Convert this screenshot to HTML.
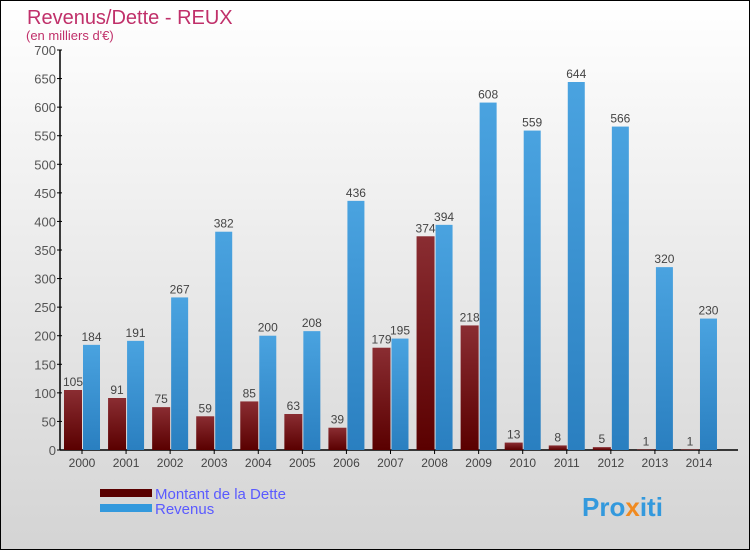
<!DOCTYPE html>
<html><head><meta charset="utf-8"><style>
body{margin:0}
#c{position:relative;width:750px;height:550px;}
svg{display:block;font-family:"Liberation Sans",sans-serif}
</style></head><body>
<div id="c">
<svg id="s" width="750" height="550" xmlns="http://www.w3.org/2000/svg">
<defs>
<linearGradient id="bg" x1="0" y1="0" x2="0" y2="1"><stop offset="0" stop-color="#ffffff"/><stop offset="1" stop-color="#d4d4d4"/></linearGradient>
<linearGradient id="gd" x1="0" y1="0" x2="0" y2="1"><stop offset="0" stop-color="#8a2d32"/><stop offset="1" stop-color="#5a0000"/></linearGradient>
<linearGradient id="gr" x1="0" y1="0" x2="0" y2="1"><stop offset="0" stop-color="#4aa3e0"/><stop offset="1" stop-color="#2a7fc0"/></linearGradient>
</defs>
<rect x="0.5" y="0.5" width="749" height="549" fill="url(#bg)" stroke="#000"/>
<text x="27" y="24" font-size="20" fill="#c0306a">Revenus/Dette - REUX</text>
<text x="26" y="40" font-size="13" fill="#c0306a">(en milliers d'€)</text>
<g id="plot"></g>
<g>
<rect x="100" y="489" width="52" height="8" fill="#5a0000"/>
<text x="155" y="499" font-size="15" fill="#5a5aff">Montant de la Dette</text>
<rect x="100" y="504" width="52" height="8" fill="#3399dd"/>
<text x="155" y="514" font-size="15" fill="#5a5aff">Revenus</text>
</g>
<text x="582" y="516" font-size="26" font-weight="bold" fill="#3399dd">Pro<tspan fill="#f08a20">x</tspan>iti</text>
</svg></div>
<script>
const years=["2000","2001","2002","2003","2004","2005","2006","2007","2008","2009","2010","2011","2012","2013","2014"];
const dette=[105,91,75,59,85,63,39,179,374,218,13,8,5,1,1];
const revenus=[184,191,267,382,200,208,436,195,394,608,559,644,566,320,230];
const ticks=[0,50,100,150,200,250,300,350,400,450,500,550,600,650,700];
const NS="http://www.w3.org/2000/svg";
const g=document.getElementById("plot");
const y0=450,y1=50,vmax=700,x0=82,step=44.07;
const Y=v=>y0-(v/vmax)*(y0-y1);
const X=i=>x0+i*step;
function mk(t,a){const e=document.createElementNS(NS,t);for(const k in a)e.setAttribute(k,a[k]);g.appendChild(e);return e;}
let e;
e=mk("line",{x1:60,y1:y0,x2:738,y2:y0,stroke:"#000","stroke-width":1.5});


e=mk("line",{x1:60,y1:y1,x2:60,y2:y0,stroke:"#000","stroke-width":1.5});


ticks.forEach(t=>{
 const l=mk("line",{x1:57,y1:Y(t),x2:62,y2:Y(t),stroke:"#000"});
 
 
 const tx=mk("text",{x:56,y:Y(t)+5,"font-size":13,fill:"#555","text-anchor":"end"});
 tx.textContent=t;
 
 
});
years.forEach((yr,i)=>{
 const cx=X(i);
 const tl=mk("text",{x:cx,y:467,"font-size":12,fill:"#444","text-anchor":"middle"});
 tl.textContent=yr;
 
 
 const tk=mk("line",{x1:cx,y1:y0,x2:cx,y2:y0+4,stroke:"#000"});
 
 
 const bd=mk("rect",{x:cx-18,y:Y(dette[i]),width:18,height:y0-Y(dette[i]),fill:"url(#gd)"});
 
 
 const br=mk("rect",{x:cx+1,y:Y(revenus[i]),width:17,height:y0-Y(revenus[i]),fill:"url(#gr)"});
 
 
 const ld=mk("text",{x:cx-9,y:Y(dette[i])-4,"font-size":12,fill:"#444","text-anchor":"middle"});
 ld.textContent=dette[i];
 
 
 const lr=mk("text",{x:cx+9.5,y:Y(revenus[i])-4,"font-size":12,fill:"#444","text-anchor":"middle"});
 lr.textContent=revenus[i];
 
 
});
</script>
</body></html>
